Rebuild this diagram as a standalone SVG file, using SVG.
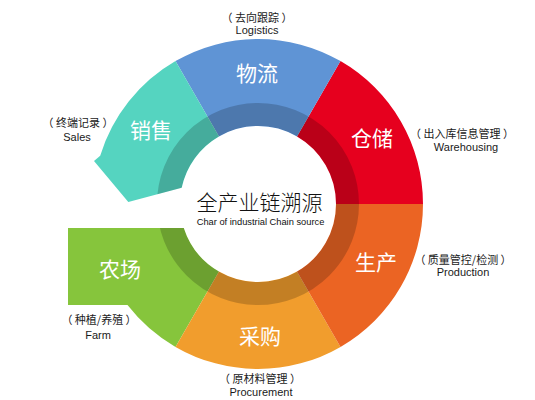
<svg xmlns="http://www.w3.org/2000/svg" xmlns:xlink="http://www.w3.org/1999/xlink" width="535" height="400" viewBox="0 0 535 400">
  <style>
    .seg-label { font-family: "Noto Sans CJK SC", "Noto Sans", sans-serif; font-size: 21px; fill: #ffffff; text-anchor: middle; }
    .cn { font-family: "Noto Sans CJK SC", "Noto Sans", sans-serif; font-size: 11px; fill: #1a1a1a; text-anchor: middle; white-space: pre; }
    .en { font-family: "Liberation Sans", Arial, sans-serif; font-size: 11px; fill: #1a1a1a; text-anchor: middle; }
  </style>
  <defs>
    <clipPath id="ringClip">
      <use xlink:href="#seg-warehousing" href="#seg-warehousing"/>
      <use xlink:href="#seg-logistics" href="#seg-logistics"/>
      <use xlink:href="#seg-sales" href="#seg-sales"/>
      <use xlink:href="#seg-farm" href="#seg-farm"/>
      <use xlink:href="#seg-procurement" href="#seg-procurement"/>
      <use xlink:href="#seg-production" href="#seg-production"/>
    </clipPath>
  </defs>
  <rect width="535" height="400" fill="#ffffff"/>

  <g id="node-warehousing">
    <path id="seg-warehousing" fill="#e6001e" d="M 423 204 A 165 165 0 0 0 340.5 61.11 L 297 136.45 A 78 78 0 0 1 336 204 Z"/>
    <text class="seg-label" x="372" y="145.8">仓储</text>
    <text class="cn" x="462" y="138">（ 出入库信息管理 ）</text>
    <text class="en" x="466" y="151">Warehousing</text>
  </g>

  <g id="node-logistics">
    <path id="seg-logistics" fill="#5f94d5" d="M 340.5 61.11 A 165 165 0 0 0 175.5 61.11 L 219 136.45 A 78 78 0 0 1 297 136.45 Z"/>
    <text class="seg-label" x="257" y="80.8">物流</text>
    <text class="cn" x="257" y="22">（ 去向跟踪 ）</text>
    <text class="en" x="257" y="34">Logistics</text>
  </g>

  <g id="node-sales">
    <path id="seg-sales" fill="#55d4c0" d="M 175.5 61.11 A 165 165 0 0 0 100.2 155.8 L 94 161 L 128.3 202 L 181.7 187.8 A 78 78 0 0 1 219 136.45 Z"/>
    <text class="seg-label" x="151" y="137.8">销售</text>
    <text class="cn" x="78" y="127.3">（ 终端记录 ）</text>
    <text class="en" x="77" y="140.7">Sales</text>
  </g>

  <g id="node-farm">
    <path id="seg-farm" fill="#86c53c" d="M 175.5 346.89 A 165 165 0 0 1 127.5 305 L 68 305 L 68 228 L 183.8 228 A 78 78 0 0 0 219 271.55 Z"/>
    <text class="seg-label" x="120" y="276.8">农场</text>
    <text class="cn" x="99" y="324">（ 种植/养殖 ）</text>
    <text class="en" x="98" y="339">Farm</text>
  </g>

  <g id="node-procurement">
    <path id="seg-procurement" fill="#f19d2d" d="M 340.5 346.89 A 165 165 0 0 1 175.5 346.89 L 219 271.55 A 78 78 0 0 0 297 271.55 Z"/>
    <text class="seg-label" x="260" y="343.8">采购</text>
    <text class="cn" x="260" y="383">（ 原材料管理 ）</text>
    <text class="en" x="261" y="396">Procurement</text>
  </g>

  <g id="node-production">
    <path id="seg-production" fill="#eb6423" d="M 423 204 A 165 165 0 0 1 340.5 346.89 L 297 271.55 A 78 78 0 0 0 336 204 Z"/>
    <text class="seg-label" x="376" y="270.3">生产</text>
    <text class="cn" x="463" y="264">（ 质量管控/检测 ）</text>
    <text class="en" x="463" y="276">Production</text>
  </g>

  <g id="inner-band" clip-path="url(#ringClip)">
    <circle cx="258" cy="204" r="89.5" fill="none" stroke="#000000" stroke-opacity="0.19" stroke-width="23"/>
  </g>

  <g id="node-center">
    <text x="259.5" y="209.8" font-family="'Noto Sans CJK SC', 'Noto Sans', sans-serif" font-size="21" font-weight="300" fill="#111111" text-anchor="middle">全产业链溯源</text>
    <text x="260.5" y="224.5" font-family="'Liberation Sans', Arial, sans-serif" font-size="9.3" fill="#111111" text-anchor="middle">Char of industrial Chain source</text>
  </g>
</svg>
